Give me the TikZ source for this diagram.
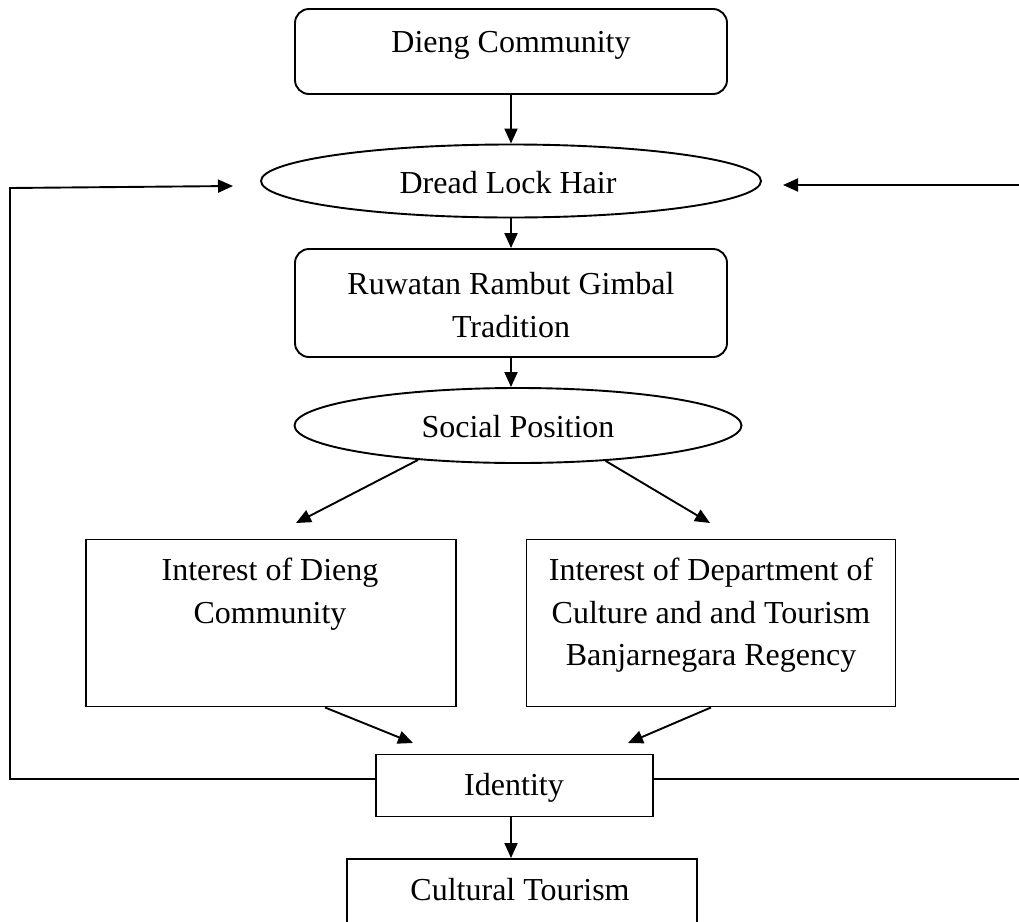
\documentclass[tikz,border=0pt]{standalone}
\usepackage{fontspec}
\setmainfont{Liberation Serif}
\usetikzlibrary{arrows.meta,shapes.geometric}
\begin{document}
\begin{tikzpicture}[x=1pt,y=-1pt,
  line width=1.9pt,
  rbox/.style={draw,rounded corners=14pt,minimum width=432pt,inner sep=0pt},
  sbox/.style={draw,rectangle,inner sep=0pt},
  ell/.style={draw,ellipse,inner sep=0pt},
  txt/.style={anchor=base,inner sep=0pt,font=\fontsize{32}{40}\selectfont},
  arr/.style={-{Triangle[length=15pt,width=13pt]}}]
\useasboundingbox (0,0) rectangle (1019,921);
% shapes
\node[rbox,minimum height=85pt] (dc) at (511,51.5) {};
\node[ell,minimum width=500pt,minimum height=73pt] (dl) at (511,181) {};
\node[rbox,minimum height=108pt] (rw) at (511,303) {};
\node[ell,minimum width=447pt,minimum height=75pt] (sp) at (518,425.5) {};
\node[sbox,minimum width=370pt,minimum height=167pt] (ia) at (271,623) {};
\node[sbox,minimum width=369pt,minimum height=167pt] (ib) at (711,623) {};
\node[sbox,minimum width=277pt,minimum height=62pt] (id) at (514.5,785.5) {};
\node[sbox,minimum width=350pt,minimum height=70pt] (ct) at (522,894) {};
% texts
\node[txt] (dct) at (511,52) {Dieng Community};
\node[txt] (dlt) at (508,193) {Dread Lock Hair};
\node[txt] (rwt1) at (511,294) {Ruwatan Rambut Gimbal};
\node[txt] (rwt2) at (511,337) {Tradition};
\node[txt] (spt) at (518,437) {Social Position};
\node[txt] (iat1) at (270,580) {Interest of Dieng};
\node[txt] (iat2) at (270,623) {Community};
\node[txt] (ibt1) at (711,580) {Interest of Department of};
\node[txt] (ibt2) at (711,623) {Culture and and Tourism};
\node[txt] (ibt3) at (711,665) {Banjarnegara Regency};
\node[txt] (idt) at (514,795) {Identity};
\node[txt] (ctt) at (520,900) {Cultural Tourism};
% free ends
\coordinate (spL) at (296,523);
\coordinate (spR) at (710,523);
\coordinate (idL) at (413,743);
\coordinate (idR) at (628,743);
\coordinate (lb) at (10,779);
\coordinate (lt) at (10,188);
\coordinate (ltip) at (233,186);
\coordinate (rb) at (1021,779);
\coordinate (rt) at (1021,185);
\coordinate (rtip) at (783,185);
% connectors
\draw[arr] (dc.south) -- (dl.north);
\draw[arr] (dl.south) -- (rw.north);
\draw[arr] (rw.south) -- (rw.south |- sp.north);
\draw[arr] (sp.199) -- (spL);
\draw[arr] (sp.338) -- (spR);
\draw[arr] ([xshift=54pt]ia.south) -- (idL);
\draw[arr] (ib.south) -- (idR);
\draw[arr] (id.south -| dc) -- (ct.north -| dc);
\draw[arr] (id.west |- lb) -- (lb) -- (lt) -- (ltip);
\draw[arr] (id.east |- rb) -- (rb) -- (rt) -- (rtip);
\end{tikzpicture}
\end{document}
